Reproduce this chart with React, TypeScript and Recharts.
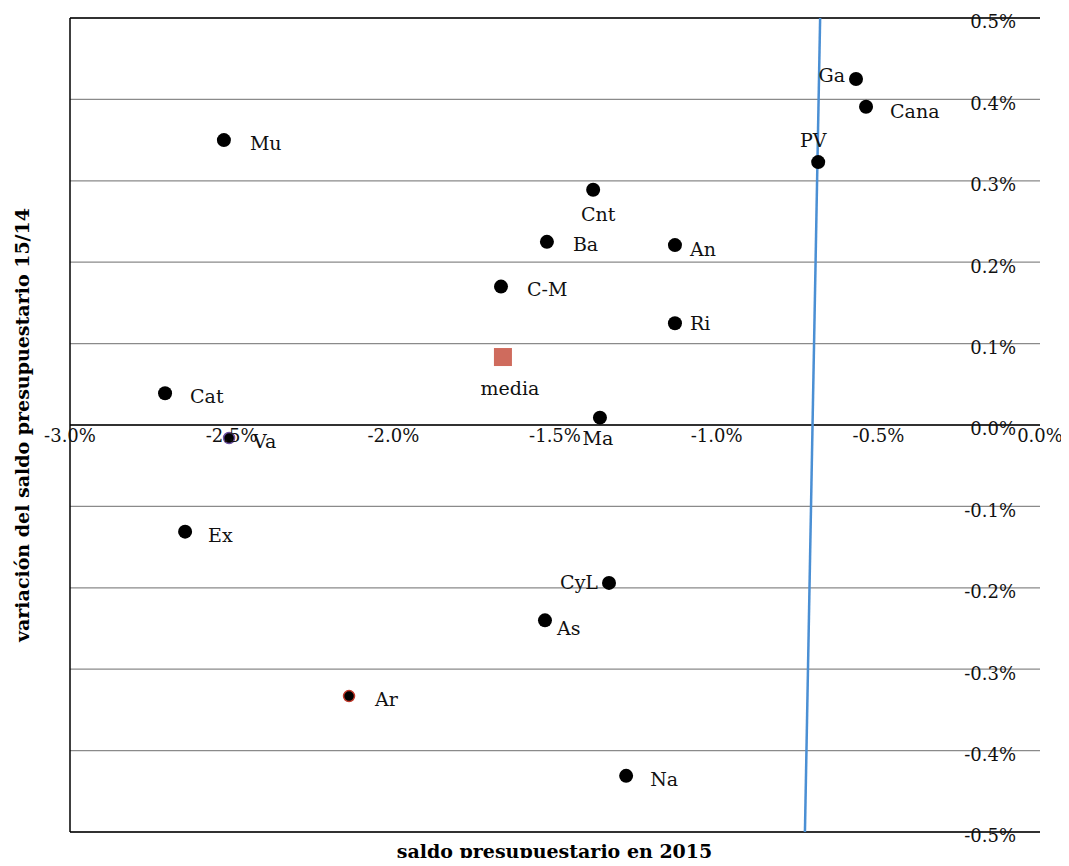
import { ScatterChart, Scatter, XAxis, YAxis, ReferenceLine, ReferenceDot } from "recharts";

const names = ["Ga", "Cana", "PV", "Mu", "Cnt", "Ba", "An", "C-M", "Ri", "Cat", "Ma", "Va", "Ex", "CyL", "As", "Ar", "Na"];
const saldo2015 = [-0.569, -0.538, -0.686, -2.524, -1.382, -1.525, -1.129, -1.667, -1.129, -2.706, -1.361, -2.508, -2.644, -1.333, -1.531, -2.137, -1.28];
const variacion = [0.425, 0.391, 0.323, 0.35, 0.289, 0.225, 0.221, 0.17, 0.125, 0.039, 0.009, -0.016, -0.131, -0.194, -0.24, -0.333, -0.431];
const mediaPoint = [{ x: -1.661, y: 0.0835, name: "media" }];
const trendLine = [{ x: -0.68, y: 0.5 }, { x: -0.727, y: -0.5 }];
const xTicks = [-3, -2.5, -2, -1.5, -1, -0.5, 0];
const yTicks = [-0.5, -0.4, -0.3, -0.2, -0.1, 0, 0.1, 0.2, 0.3, 0.4, 0.5];

// label placement relative to the marker
const labelOffsets: Record<string, [number, number, string]> = {
  Ga: [-11, -4, "end"], Cana: [24, 4, "start"], PV: [-5, -22, "middle"], Mu: [26, 3, "start"],
  Cnt: [5, 24, "middle"], Ba: [26, 2, "start"], An: [15, 4, "start"], "C-M": [26, 2, "start"],
  Ri: [15, 0, "start"], Cat: [25, 3, "start"], Ma: [-2, 20, "middle"], Va: [24, 3, "start"],
  Ex: [23, 3, "start"], CyL: [-11, -1, "end"], As: [12, 8, "start"], Ar: [26, 3, "start"],
  Na: [24, 3, "start"], media: [7, 31, "middle"],
};
const outlined: Record<string, string> = { Va: "#6a4fa0", Ar: "#c0392b" };

const points = names.map((n, i) => ({ name: n, x: saldo2015[i], y: variacion[i] }));
const font = "'DejaVu Serif', serif";

const fmt = (v: number, d: number) => `${v.toFixed(d)}%`;

function Dot(props: any) {
  const { cx, cy, payload } = props;
  const [dx, dy, anchor] = labelOffsets[payload.name];
  const oc = outlined[payload.name];
  return (
    <g>
      {oc ? (
        <circle cx={cx} cy={cy} r={5.5} fill="#000" stroke={oc} strokeWidth={1.5} />
      ) : (
        <circle cx={cx} cy={cy} r={7} fill="#000" />
      )}
      <text x={cx + dx} y={cy + dy} textAnchor={anchor as any} dominantBaseline="central" fontFamily={font} fontSize={19} fill="#111">
        {payload.name}
      </text>
    </g>
  );
}

function Square(props: any) {
  const { cx, cy, payload } = props;
  const [dx, dy, anchor] = labelOffsets[payload.name];
  return (
    <g>
      <rect x={cx - 9} y={cy - 9} width={18} height={18} fill="#cf6b5d" />
      <text x={cx + dx} y={cy + dy} textAnchor={anchor as any} dominantBaseline="central" fontFamily={font} fontSize={19} fill="#111">
        {payload.name}
      </text>
    </g>
  );
}

export default function App() {
  return (
    <div style={{ margin: -8, width: 1069, height: 866, background: "#fff", position: "relative", overflow: "hidden" }}>
      <ScatterChart width={1069} height={866} margin={{ top: 18, right: 29, left: 70, bottom: 34 }}>
        <XAxis type="number" dataKey="x" domain={[-3, 0]} ticks={xTicks} tick={false} axisLine={false} tickLine={false} height={0} />
        <YAxis type="number" dataKey="y" domain={[-0.5, 0.5]} ticks={yTicks} orientation="right"
          axisLine={{ stroke: "#999" }} tickLine={false} width={0} tick={false} />
        {yTicks.map((t) => (
          <ReferenceLine key={"g" + t} y={t} stroke="#8a8a8a" strokeWidth={1.2} />
        ))}
        <ReferenceLine x={-3} stroke="#000" strokeWidth={1.5} />
        <ReferenceLine y={0.5} stroke="#000" strokeWidth={1.5} />
        <ReferenceLine y={-0.5} stroke="#000" strokeWidth={1.5} />
        <ReferenceLine y={0} stroke="#000" strokeWidth={1.5} />
        {xTicks.map((t) => (
          <ReferenceDot key={"x" + t} x={t} y={0} r={0} stroke="none" fill="none"
            label={{ value: fmt(t, 1), position: "bottom", offset: 4, fontFamily: font, fontSize: 18, fill: "#111" }} />
        ))}
        {yTicks.map((t) => (
          <ReferenceDot key={"y" + t} x={0} y={t} r={0} stroke="none" fill="none"
            label={{ value: fmt(t, 1), position: "left", offset: 24, dy: 4, fontFamily: font, fontSize: 18, fill: "#111" }} />
        ))}
        <Scatter data={trendLine} line={{ stroke: "#4a8fd4", strokeWidth: 2.5 }} shape={() => null} isAnimationActive={false} />
        <Scatter data={points} shape={<Dot />} isAnimationActive={false} />
        <Scatter data={mediaPoint} shape={<Square />} isAnimationActive={false} />
      </ScatterChart>
      <div style={{ position: "absolute", left: 0, right: 0, top: 840, textAlign: "center", paddingLeft: 40, fontFamily: font, fontWeight: "bold", fontSize: 19, lineHeight: "22px" }}>
        saldo presupuestario en 2015
      </div>
      <div style={{ position: "absolute", left: 22, top: 425, transform: "translate(-50%,-50%) rotate(-90deg)", whiteSpace: "nowrap", fontFamily: font, fontWeight: "bold", fontSize: 19 }}>
        variación del saldo presupuestario 15/14
      </div>
    </div>
  );
}
